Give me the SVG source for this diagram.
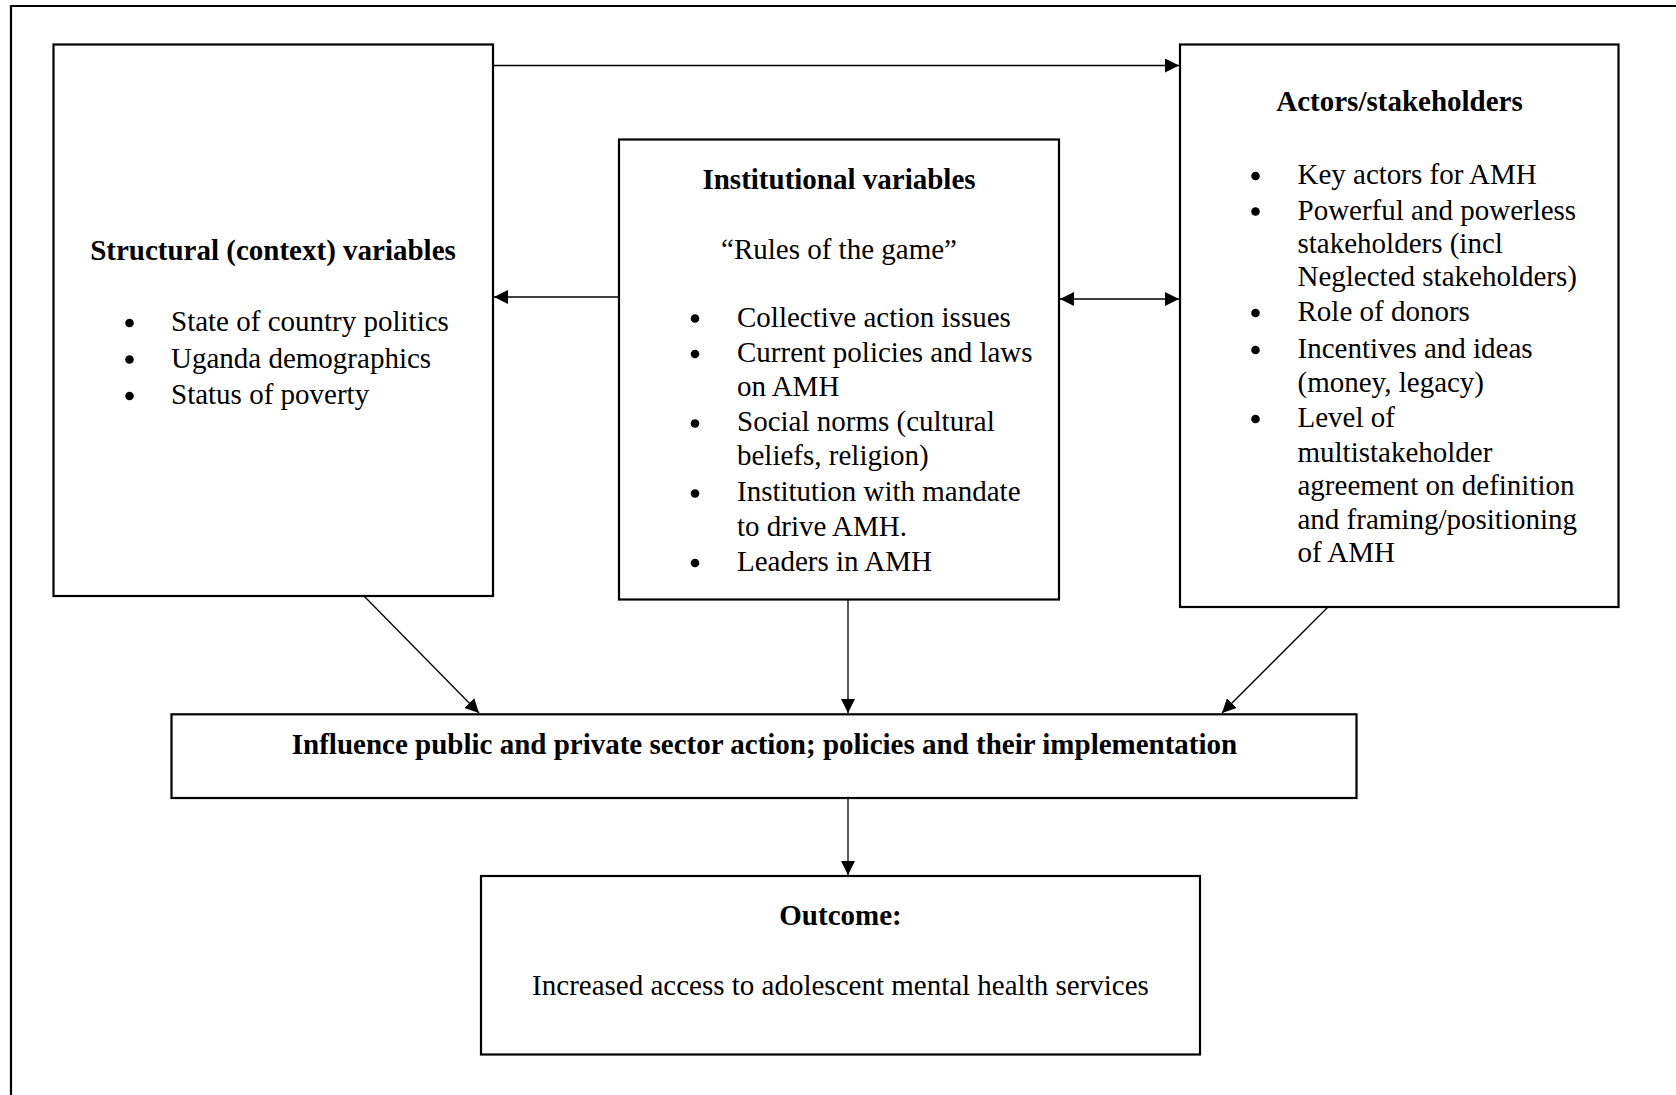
<svg xmlns="http://www.w3.org/2000/svg" width="1676" height="1095" viewBox="0 0 1676 1095">
<style>
.box{fill:#fff;stroke:#000;stroke-width:2.2}
.frame{fill:none;stroke:#000;stroke-width:2.2}
.t{font-family:"Liberation Serif","Times New Roman",serif;font-size:29px;fill:#000}
.b{font-weight:bold}
.c{text-anchor:middle}
.con{stroke:#000;stroke-width:1.3;fill:none}
.dot{fill:#000}
</style>
<defs>
<marker id="ah" viewBox="0 0 14 14" refX="14" refY="7" markerWidth="14" markerHeight="14" markerUnits="userSpaceOnUse" orient="auto-start-reverse">
<path d="M0,0 L14,7 L0,14 Z" fill="#000"/>
</marker>
</defs>
<rect width="1676" height="1095" fill="#fff"/>
<path class="frame" d="M11,1100 V6 H1680"/>

<g id="connectors">
<line class="con" x1="493" y1="65.5" x2="1179" y2="65.5" marker-end="url(#ah)"/>
<line class="con" x1="619" y1="297" x2="494" y2="297" marker-end="url(#ah)"/>
<line class="con" x1="1060" y1="299" x2="1179" y2="299" marker-start="url(#ah)" marker-end="url(#ah)"/>
<line class="con" x1="363" y1="595" x2="479" y2="713" marker-end="url(#ah)"/>
<line class="con" x1="848" y1="600" x2="848" y2="713" marker-end="url(#ah)"/>
<line class="con" x1="1328" y1="607" x2="1222" y2="713" marker-end="url(#ah)"/>
<line class="con" x1="848" y1="798" x2="848" y2="875" marker-end="url(#ah)"/>
</g>

<g id="structural">
<rect class="box" x="53.5" y="44.5" width="439.5" height="551.5"/>
<text class="t b c" x="273" y="260">Structural (context) variables</text>
<circle class="dot" cx="129.5" cy="323" r="4.3"/>
<circle class="dot" cx="129.5" cy="359.5" r="4.3"/>
<circle class="dot" cx="129.5" cy="396" r="4.3"/>
<text class="t" x="171" y="331">State of country politics</text>
<text class="t" x="171" y="367.5">Uganda demographics</text>
<text class="t" x="171" y="404">Status of poverty</text>
</g>

<g id="institutional">
<rect class="box" x="619" y="139.5" width="440" height="460"/>
<text class="t b c" x="839" y="189">Institutional variables</text>
<text class="t c" x="839" y="259">“Rules of the game”</text>
<circle class="dot" cx="695" cy="318.5" r="4.3"/>
<circle class="dot" cx="695" cy="354" r="4.3"/>
<circle class="dot" cx="695" cy="423.5" r="4.3"/>
<circle class="dot" cx="695" cy="493.5" r="4.3"/>
<circle class="dot" cx="695" cy="563" r="4.3"/>
<text class="t" x="737" y="326.5">Collective action issues</text>
<text class="t" x="737" y="361.5">Current policies and laws</text>
<text class="t" x="737" y="395.5">on AMH</text>
<text class="t" x="737" y="431">Social norms (cultural</text>
<text class="t" x="737" y="465">beliefs, religion)</text>
<text class="t" x="737" y="501">Institution with mandate</text>
<text class="t" x="737" y="536">to drive AMH.</text>
<text class="t" x="737" y="570.5">Leaders in AMH</text>
</g>

<g id="actors">
<rect class="box" x="1180" y="44.5" width="438.5" height="562.5"/>
<text class="t b c" x="1399.5" y="110.5">Actors/stakeholders</text>
<circle class="dot" cx="1255.5" cy="176" r="4.3"/>
<circle class="dot" cx="1255.5" cy="211.5" r="4.3"/>
<circle class="dot" cx="1255.5" cy="313" r="4.3"/>
<circle class="dot" cx="1255.5" cy="350" r="4.3"/>
<circle class="dot" cx="1255.5" cy="419" r="4.3"/>
<text class="t" x="1297.5" y="184">Key actors for AMH</text>
<text class="t" x="1297.5" y="219.5">Powerful and powerless</text>
<text class="t" x="1297.5" y="252.5">stakeholders (incl</text>
<text class="t" x="1297.5" y="285.5">Neglected stakeholders)</text>
<text class="t" x="1297.5" y="321">Role of donors</text>
<text class="t" x="1297.5" y="358">Incentives and ideas</text>
<text class="t" x="1297.5" y="391.5">(money, legacy)</text>
<text class="t" x="1297.5" y="427">Level of</text>
<text class="t" x="1297.5" y="462">multistakeholder</text>
<text class="t" x="1297.5" y="495">agreement on definition</text>
<text class="t" x="1297.5" y="529">and framing/positioning</text>
<text class="t" x="1297.5" y="562">of AMH</text>
</g>

<g id="influence">
<rect class="box" x="171.5" y="714.3" width="1185" height="83.7"/>
<text class="t b c" x="764.5" y="754">Influence public and private sector action; policies and their implementation</text>
</g>

<g id="outcome">
<rect class="box" x="481" y="876" width="719" height="178.5"/>
<text class="t b c" x="840.5" y="924.5">Outcome:</text>
<text class="t c" x="840.5" y="995">Increased access to adolescent mental health services</text>
</g>
</svg>
